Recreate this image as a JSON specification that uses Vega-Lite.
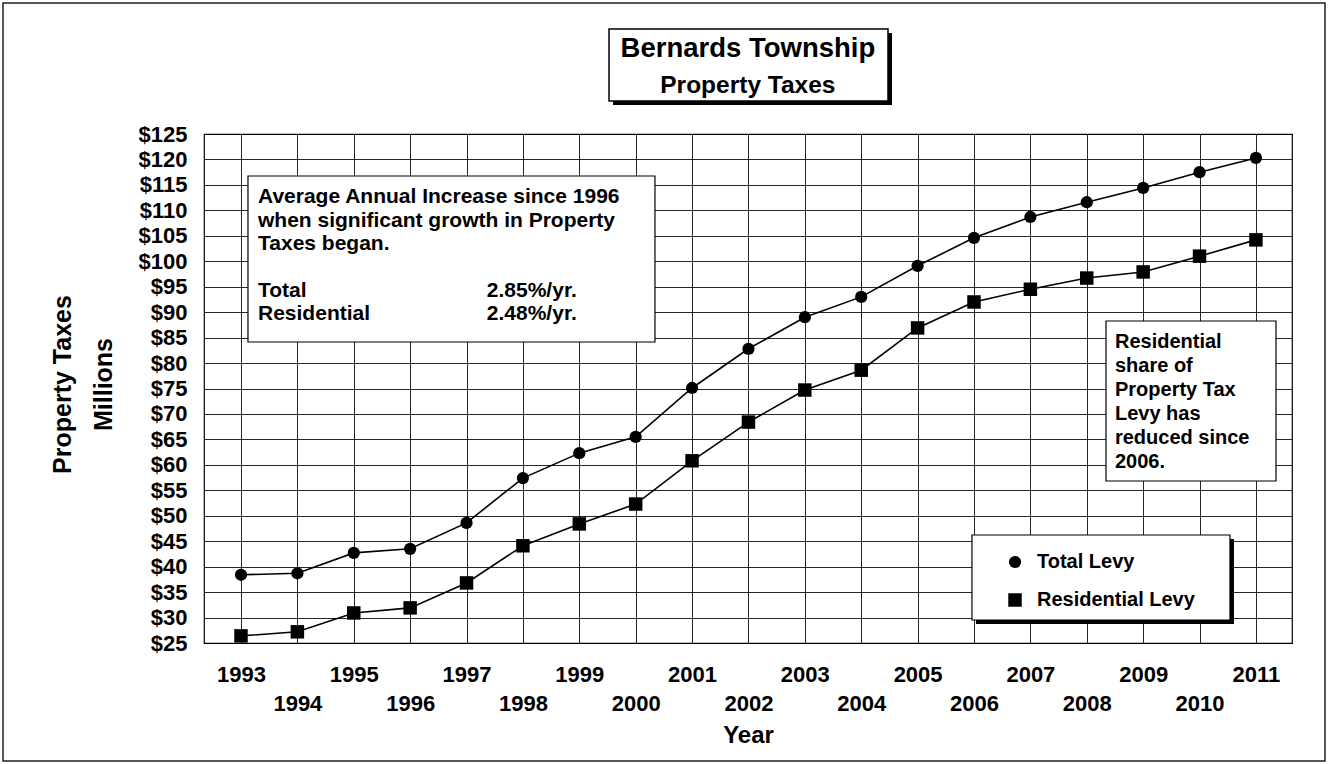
{
  "$schema": "https://vega.github.io/schema/vega-lite/v6.json",
  "width": 1088,
  "height": 509,
  "autosize": "none",
  "padding": {"left": 204, "top": 134, "right": 36, "bottom": 121},
  "background": "white",
  "config": {
    "font": "Liberation Sans",
    "view": {"stroke": "black", "strokeWidth": 1.2},
    "axis": {"labelFont": "Liberation Sans", "titleFont": "Liberation Sans", "labelColor": "black", "titleColor": "black"}
  },
  "data": {"values": [
    {"year": 1993, "series": "Total Levy", "taxes": 38.4},
    {"year": 1994, "series": "Total Levy", "taxes": 38.7},
    {"year": 1995, "series": "Total Levy", "taxes": 42.7},
    {"year": 1996, "series": "Total Levy", "taxes": 43.5},
    {"year": 1997, "series": "Total Levy", "taxes": 48.6},
    {"year": 1998, "series": "Total Levy", "taxes": 57.4},
    {"year": 1999, "series": "Total Levy", "taxes": 62.3},
    {"year": 2000, "series": "Total Levy", "taxes": 65.5},
    {"year": 2001, "series": "Total Levy", "taxes": 75.1},
    {"year": 2002, "series": "Total Levy", "taxes": 82.8},
    {"year": 2003, "series": "Total Levy", "taxes": 89.0},
    {"year": 2004, "series": "Total Levy", "taxes": 93.0},
    {"year": 2005, "series": "Total Levy", "taxes": 99.1},
    {"year": 2006, "series": "Total Levy", "taxes": 104.6},
    {"year": 2007, "series": "Total Levy", "taxes": 108.7},
    {"year": 2008, "series": "Total Levy", "taxes": 111.6},
    {"year": 2009, "series": "Total Levy", "taxes": 114.4},
    {"year": 2010, "series": "Total Levy", "taxes": 117.5},
    {"year": 2011, "series": "Total Levy", "taxes": 120.3},
    {"year": 1993, "series": "Residential Levy", "taxes": 26.4},
    {"year": 1994, "series": "Residential Levy", "taxes": 27.2},
    {"year": 1995, "series": "Residential Levy", "taxes": 30.9},
    {"year": 1996, "series": "Residential Levy", "taxes": 31.9},
    {"year": 1997, "series": "Residential Levy", "taxes": 36.8},
    {"year": 1998, "series": "Residential Levy", "taxes": 44.1},
    {"year": 1999, "series": "Residential Levy", "taxes": 48.4},
    {"year": 2000, "series": "Residential Levy", "taxes": 52.3},
    {"year": 2001, "series": "Residential Levy", "taxes": 60.8},
    {"year": 2002, "series": "Residential Levy", "taxes": 68.4},
    {"year": 2003, "series": "Residential Levy", "taxes": 74.7},
    {"year": 2004, "series": "Residential Levy", "taxes": 78.6},
    {"year": 2005, "series": "Residential Levy", "taxes": 86.9},
    {"year": 2006, "series": "Residential Levy", "taxes": 92.0},
    {"year": 2007, "series": "Residential Levy", "taxes": 94.5},
    {"year": 2008, "series": "Residential Levy", "taxes": 96.7},
    {"year": 2009, "series": "Residential Levy", "taxes": 97.9},
    {"year": 2010, "series": "Residential Levy", "taxes": 101.0},
    {"year": 2011, "series": "Residential Levy", "taxes": 104.2}
  ]},
  "layer": [
    {
      "data": {"values": [{}]},
      "mark": {"type": "rect", "fill": null, "fillOpacity": 0, "stroke": "#222", "strokeWidth": 1.5},
      "encoding": {
        "x": {"datum": 1988.779, "type": "quantitative"},
        "x2": {"datum": 2012.225},
        "y": {"datum": 150.74, "type": "quantitative"},
        "y2": {"datum": 1.82}
      }
    },
    {
      "mark": {"type": "line", "color": "black", "strokeWidth": 1.6},
      "encoding": {
        "x": {
          "field": "year", "type": "quantitative",
          "scale": {"domain": [1992.344, 2011.64], "nice": false, "zero": false},
          "axis": {
            "values": [1993,1994,1995,1996,1997,1998,1999,2000,2001,2002,2003,2004,2005,2006,2007,2008,2009,2010,2011],
            "tickCount": 40,
            "format": "d",
            "labelExpr": "datum.value % 2 == 0 ? ['', datum.label] : datum.label",
            "labelLineHeight": 29,
            "labelFontSize": 22,
            "labelFontWeight": "bold",
            "labelPadding": 21,
            "labelBaseline": "top",
            "labelFlush": false,
            "labelOverlap": false,
            "ticks": false,
            "domain": false,
            "grid": true,
            "gridColor": "black",
            "gridOpacity": 0.85,
            "gridWidth": 1,
            "title": "Year",
            "titleFontSize": 24,
            "titleFontWeight": "bold",
            "titleX": 544,
            "titleY": 99,
            "titleBaseline": "alphabetic",
            "titleAlign": "center"
          }
        },
        "y": {
          "field": "taxes", "type": "quantitative",
          "scale": {"domain": [25, 125], "nice": false, "zero": false},
          "axis": {
            "values": [25,30,35,40,45,50,55,60,65,70,75,80,85,90,95,100,105,110,115,120,125],
            "tickCount": 40,
            "labelExpr": "'$' + datum.value",
            "labelFontSize": 22,
            "labelFontWeight": "bold",
            "labelPadding": 17,
            "labelFlush": false,
            "labelOverlap": false,
            "ticks": false,
            "domain": false,
            "grid": true,
            "gridColor": "black",
            "gridOpacity": 0.85,
            "gridWidth": 1,
            "title": ["Property Taxes", "Millions"],
            "titleFontSize": 25,
            "titleFontWeight": "bold",
            "titleLineHeight": 41,
            "titleAngle": -90,
            "titleX": -134,
            "titleY": 250,
            "titleAlign": "center",
            "titleBaseline": "alphabetic"
          }
        },
        "detail": {"field": "series", "type": "nominal"}
      }
    },
    {
      "data": {"values": [{}]},
      "mark": {"type": "rect", "fill": "black", "stroke": null},
      "encoding": {
        "x": {"datum": 1999.598, "type": "quantitative"},
        "x2": {"datum": 2004.546},
        "y": {"datum": 144.84, "type": "quantitative"},
        "y2": {"datum": 130.69}
      }
    },
    {
      "data": {"values": [{}]},
      "mark": {"type": "rect", "fill": "white", "stroke": "black", "strokeWidth": 1.5},
      "encoding": {
        "x": {"datum": 1999.527, "type": "quantitative"},
        "x2": {"datum": 2004.475},
        "y": {"datum": 145.63, "type": "quantitative"},
        "y2": {"datum": 131.48}
      }
    },
    {
      "data": {"values": [{}]},
      "mark": {"type": "text", "text": "Bernards Township", "font": "Liberation Sans", "fontSize": 27.5, "fontWeight": "bold", "color": "black", "align": "center", "baseline": "alphabetic"},
      "encoding": {
        "x": {"datum": 2001.99, "type": "quantitative"},
        "y": {"datum": 140.07, "type": "quantitative"}
      }
    },
    {
      "data": {"values": [{}]},
      "mark": {"type": "text", "text": "Property Taxes", "font": "Liberation Sans", "fontSize": 24.5, "fontWeight": "bold", "color": "black", "align": "center", "baseline": "alphabetic"},
      "encoding": {
        "x": {"datum": 2001.99, "type": "quantitative"},
        "y": {"datum": 133.0, "type": "quantitative"}
      }
    },
    {
      "data": {"values": [{}]},
      "mark": {"type": "rect", "fill": "white", "stroke": "black", "strokeWidth": 1.2},
      "encoding": {
        "x": {"datum": 1993.124, "type": "quantitative"},
        "x2": {"datum": 2000.342},
        "y": {"datum": 116.75, "type": "quantitative"},
        "y2": {"datum": 84.14}
      }
    },
    {
      "data": {"values": [{}]},
      "mark": {"type": "text", "text": ["Average Annual Increase since 1996", "when significant growth in Property", "Taxes began."], "font": "Liberation Sans", "fontSize": 21, "fontWeight": "bold", "color": "black", "align": "left", "baseline": "alphabetic", "lineHeight": 23.3},
      "encoding": {
        "x": {"datum": 1993.302, "type": "quantitative"},
        "y": {"datum": 111.39, "type": "quantitative"}
      }
    },
    {
      "data": {"values": [{}]},
      "mark": {"type": "text", "text": ["Total", "Residential"], "font": "Liberation Sans", "fontSize": 21, "fontWeight": "bold", "color": "black", "align": "left", "baseline": "alphabetic", "lineHeight": 23.3},
      "encoding": {
        "x": {"datum": 1993.302, "type": "quantitative"},
        "y": {"datum": 92.98, "type": "quantitative"}
      }
    },
    {
      "data": {"values": [{}]},
      "mark": {"type": "text", "text": ["2.85%/yr.", "2.48%/yr."], "font": "Liberation Sans", "fontSize": 21, "fontWeight": "bold", "color": "black", "align": "left", "baseline": "alphabetic", "lineHeight": 23.3},
      "encoding": {
        "x": {"datum": 1997.36, "type": "quantitative"},
        "y": {"datum": 92.98, "type": "quantitative"}
      }
    },
    {
      "data": {"values": [{}]},
      "mark": {"type": "rect", "fill": "white", "stroke": "black", "strokeWidth": 1.2},
      "encoding": {
        "x": {"datum": 2008.341, "type": "quantitative"},
        "x2": {"datum": 2011.356},
        "y": {"datum": 88.26, "type": "quantitative"},
        "y2": {"datum": 56.83}
      }
    },
    {
      "data": {"values": [{}]},
      "mark": {"type": "text", "text": ["Residential", "share of", "Property Tax", "Levy has", "reduced since", "2006."], "font": "Liberation Sans", "fontSize": 20, "fontWeight": "bold", "color": "black", "align": "left", "baseline": "alphabetic", "lineHeight": 24},
      "encoding": {
        "x": {"datum": 2008.5, "type": "quantitative"},
        "y": {"datum": 82.9, "type": "quantitative"}
      }
    },
    {
      "data": {"values": [{}]},
      "mark": {"type": "rect", "fill": "black", "stroke": null},
      "encoding": {
        "x": {"datum": 2006.035, "type": "quantitative"},
        "x2": {"datum": 2010.611},
        "y": {"datum": 45.43, "type": "quantitative"},
        "y2": {"datum": 28.73}
      }
    },
    {
      "data": {"values": [{}]},
      "mark": {"type": "rect", "fill": "white", "stroke": "black", "strokeWidth": 1.2},
      "encoding": {
        "x": {"datum": 2005.964, "type": "quantitative"},
        "x2": {"datum": 2010.54},
        "y": {"datum": 46.22, "type": "quantitative"},
        "y2": {"datum": 29.52}
      }
    },
    {
      "mark": {"type": "point", "filled": true, "color": "black", "opacity": 1, "size": 150},
      "encoding": {
        "x": {"field": "year", "type": "quantitative"},
        "y": {"field": "taxes", "type": "quantitative"},
        "shape": {
          "field": "series", "type": "nominal",
          "scale": {"domain": ["Total Levy", "Residential Levy"], "range": ["circle", "M-1.1,-1.1H1.1V1.1H-1.1Z"]},
          "legend": {
            "orient": "none",
            "legendX": 801,
            "legendY": 418,
            "zindex": 5,
            "title": null,
            "padding": 0,
            "labelFont": "Liberation Sans",
            "labelFontSize": 20,
            "labelFontWeight": "bold",
            "labelColor": "black",
            "symbolSize": 150,
            "symbolFillColor": "black",
            "symbolStrokeColor": "black",
            "symbolOpacity": 1,
            "rowPadding": 18,
            "labelOffset": 12,
            "encode": {
              "symbols": {
                "update": {
                  "shape": {"signal": "datum.value === 'Total Levy' ? 'M-1.7,-0.12H1.7V0.12H-1.7Z M1,0A1,1 0 1,1 -1,0A1,1 0 1,1 1,0Z' : 'M-1.7,-0.12H1.7V0.12H-1.7Z M-0.95,-0.95H0.95V0.95H-0.95Z'"}
                }
              }
            }
          }
        }
      }
    }
  ]
}
